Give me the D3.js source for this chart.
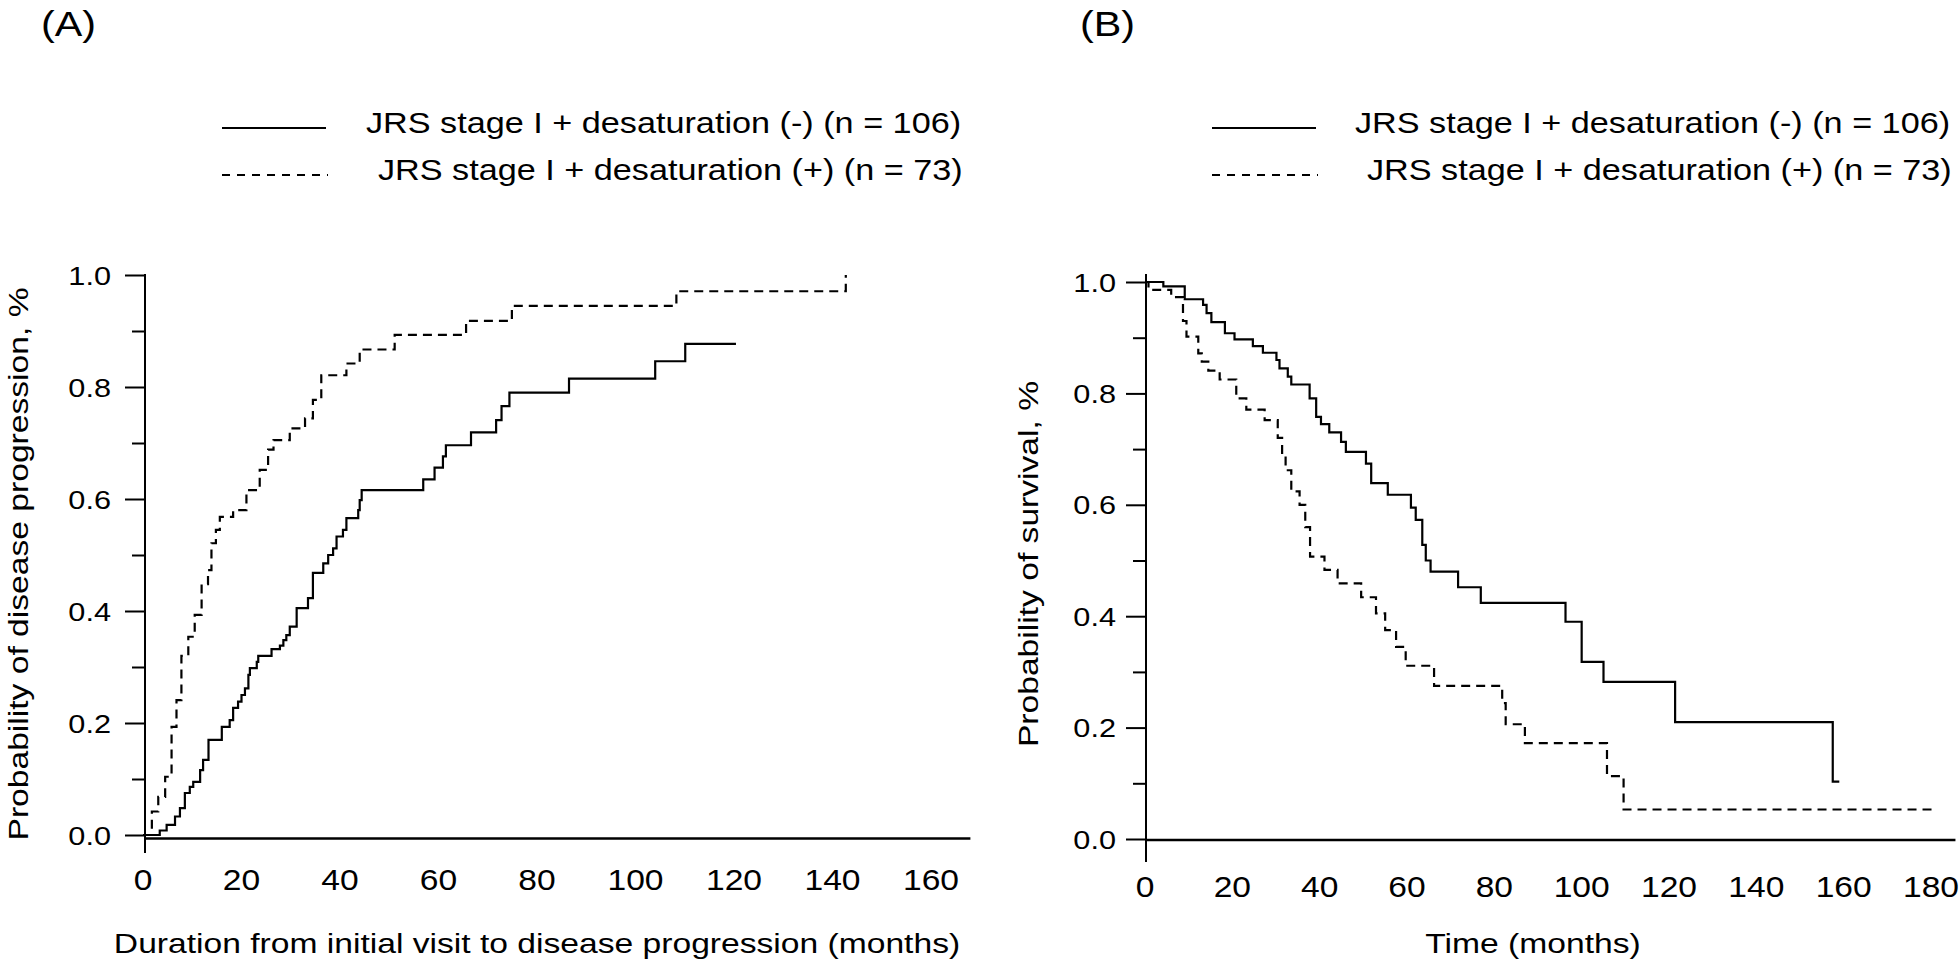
<!DOCTYPE html>
<html>
<head>
<meta charset="utf-8">
<script src="https://cdn.jsdelivr.net/npm/d3@7"></script>
<style>
  html, body { margin: 0; padding: 0; background: #fff; }
  text { font-family: "Liberation Sans", Arial, Helvetica, sans-serif; fill: #000; }
</style>
</head>
<body>
<svg id="chart" width="1960" height="966"></svg>
<script>
// ---------- data ----------
const panelLabels = ["(A)", "(B)"];
const legendLabels = [
  "JRS stage I + desaturation (-) (n = 106)",
  "JRS stage I + desaturation (+) (n = 73)"
];
const xTitleA = "Duration from initial visit to disease progression (months)";
const yTitleA = "Probability of disease progression, %";
const xTitleB = "Time (months)";
const yTitleB = "Probability of survival, %";

const xTicksA = [0, 20, 40, 60, 80, 100, 120, 140, 160];
const xTicksB = [0, 20, 40, 60, 80, 100, 120, 140, 160, 180];
const yMajorTicks = [0, 0.2, 0.4, 0.6, 0.8, 1.0];
const yMinorTicks = [0.1, 0.3, 0.5, 0.7, 0.9];

// Panel A: cumulative probability of progression, desaturation (-)  [month, probability]
const progressionNeg = [
  [0,0],[3.4,0.008],[4.8,0.018],[6.5,0.033],[7.5,0.048],[8.5,0.075],[9.5,0.086],[10.2,0.095],
  [11.6,0.116],[12.2,0.134],[13.3,0.170],[16.0,0.193],[17.6,0.205],[18.3,0.227],[19.3,0.238],
  [20.0,0.25],[20.7,0.262],[21.4,0.286],[21.7,0.298],[23.1,0.309],[23.4,0.32],[26.1,0.332],
  [27.8,0.338],[28.5,0.348],[29.1,0.357],[29.8,0.372],[31.2,0.405],[33.5,0.423],[34.5,0.468],
  [36.6,0.485],[37.6,0.5],[38.6,0.512],[39.3,0.533],[40.6,0.545],[41.3,0.566],[43.7,0.58],
  [44.0,0.598],[44.4,0.616],[56.9,0.635],[59.2,0.656],[60.9,0.676],[61.5,0.696],[66.6,0.719],
  [71.7,0.741],[72.8,0.766],[74.4,0.79],[86.5,0.815],[104.0,0.846],[110.1,0.877],[120.4,0.877]
];
// Panel A: desaturation (+)
const progressionPos = [
  [0,0],[1.8,0.042],[3.1,0.068],[4.5,0.104],[5.8,0.193],[6.8,0.241],[7.8,0.32],[9.2,0.354],
  [10.5,0.393],[11.9,0.448],[13.2,0.473],[13.9,0.521],[14.8,0.545],[15.6,0.568],[18.3,0.58],
  [21.0,0.616],[23.7,0.652],[25.4,0.688],[26.5,0.705],[29.8,0.726],[32.9,0.744],[34.5,0.777],
  [36.2,0.821],[41.3,0.842],[44.0,0.867],[51.1,0.893],[65.6,0.918],[74.9,0.945],[108.3,0.971],
  [142.7,1.0],[142.7,1.0]
];
// Panel B: survival, desaturation (-)
const survivalNeg = [
  [0,1],[4.2,0.992],[9.1,0.969],[13.3,0.959],[14.1,0.944],[15.2,0.928],[18.3,0.908],[20.5,0.897],
  [24.7,0.885],[27.0,0.873],[30.1,0.86],[30.8,0.845],[32.7,0.83],[33.5,0.816],[37.7,0.791],
  [39.2,0.758],[40.3,0.745],[42.2,0.73],[44.9,0.713],[46.0,0.695],[50.6,0.674],[51.8,0.639],
  [55.6,0.618],[60.9,0.595],[62.0,0.573],[63.5,0.528],[64.3,0.5],[65.4,0.48],[71.7,0.452],
  [76.9,0.424],[96.3,0.39],[100.0,0.318],[105.0,0.282],[121.4,0.21],[157.5,0.103],[159.0,0.103]
];
// Panel B: survival, desaturation (+)
const survivalPos = [
  [0,1],[0.8,0.986],[6.0,0.973],[8.7,0.93],[9.5,0.902],[12.2,0.872],[13.0,0.857],[14.5,0.841],
  [17.1,0.825],[20.9,0.791],[23.2,0.771],[27.4,0.752],[30.4,0.72],[31.4,0.69],[32.2,0.662],
  [33.5,0.624],[35.4,0.6],[36.7,0.56],[37.8,0.507],[41.1,0.483],[44.1,0.459],[49.5,0.434],
  [52.9,0.405],[55.0,0.375],[57.5,0.345],[59.7,0.311],[66.2,0.275],[81.8,0.244],[82.6,0.206],
  [87.0,0.172],[105.8,0.113],[109.6,0.053],[180.7,0.053]
];

// ---------- drawing ----------
const SX = 1.18;           // horizontal glyph stretch of the original typeface
const DASH = "9,6";
const svg = d3.select("#chart");
svg.append("rect").attr("width", 1960).attr("height", 966).attr("fill", "#fff");

function txt(g, str, x, y, size, anchor, rotate, sx) {
  return g.append("text")
    .attr("transform", `translate(${x},${y})${rotate ? " rotate(-90)" : ""} scale(${sx || SX},1)`)
    .attr("text-anchor", anchor)
    .style("font-size", size + "px")
    .text(str);
}

function panel(cfg) {
  const g = svg.append("g");
  const x = d3.scaleLinear().domain([0, cfg.xRef]).range([cfg.x0, cfg.xRefPx]);
  const y = d3.scaleLinear().domain([0, 1]).range([cfg.y0, cfg.y1]);

  // y axis with major/minor ticks
  const yAxis = d3.axisLeft(y).tickValues(yMajorTicks).tickSize(20)
    .tickFormat(d3.format(".1f"));
  const ya = g.append("g").attr("transform", `translate(${cfg.yAxisX},0)`).call(yAxis);
  ya.select(".domain").remove();
  ya.selectAll(".tick line").attr("stroke", "#000").attr("stroke-width", 2);
  ya.selectAll(".tick text").remove();
  const ym = d3.axisLeft(y).tickValues(yMinorTicks).tickSize(13).tickFormat("");
  const ymg = g.append("g").attr("transform", `translate(${cfg.yAxisX},0)`).call(ym);
  ymg.select(".domain").remove();
  ymg.selectAll(".tick line").attr("stroke", "#000").attr("stroke-width", 2);
  yMajorTicks.forEach(v => txt(g, d3.format(".1f")(v), cfg.yLabelX, y(v) + 9.5, 26, "end"));

  // y axis line
  g.append("line").attr("x1", cfg.yAxisX).attr("x2", cfg.yAxisX)
    .attr("y1", cfg.yTop).attr("y2", cfg.yBottom)
    .attr("stroke", "#000").attr("stroke-width", 2);
  // x axis line
  g.append("line").attr("x1", cfg.yAxisX).attr("x2", x(cfg.xEnd))
    .attr("y1", cfg.xAxisY).attr("y2", cfg.xAxisY)
    .attr("stroke", "#000").attr("stroke-width", 2.5);
  // x tick labels
  cfg.xTicks.forEach(v => txt(g, String(v), x(v), cfg.xLabelY, 30, "middle", false, 1.12));

  // titles
  txt(g, cfg.xTitle, cfg.xTitleX, 953, 28.5, "middle");
  txt(g, cfg.yTitle, cfg.yTitleX, cfg.yTitleY, 28.5, "middle", true);
  txt(g, cfg.label, cfg.labelX, 36, 35, "start");

  // curves
  const line = d3.line().x(d => x(d[0])).y(d => y(d[1])).curve(d3.curveStepAfter);
  g.append("path").datum(cfg.solid).attr("d", line)
    .attr("fill", "none").attr("stroke", "#000").attr("stroke-width", 2.2);
  g.append("path").datum(cfg.dashed).attr("d", line)
    .attr("fill", "none").attr("stroke", "#000").attr("stroke-width", 2.2)
    .attr("stroke-dasharray", DASH);

  // legend
  g.append("line").attr("x1", cfg.legX).attr("x2", cfg.legX + 104)
    .attr("y1", 128).attr("y2", 128).attr("stroke", "#000").attr("stroke-width", 2.2);
  g.append("line").attr("x1", cfg.legX).attr("x2", cfg.legX + 106)
    .attr("y1", 175).attr("y2", 175).attr("stroke", "#000").attr("stroke-width", 2.2)
    .attr("stroke-dasharray", "8,7");
  txt(g, legendLabels[0], cfg.legTextX[0], 133, 29, "start");
  txt(g, legendLabels[1], cfg.legTextX[1], 180, 29, "start");
}

panel({
  xRef: 160, x0: 143, xRefPx: 931, xEnd: 168,
  y0: 835, y1: 275, yAxisX: 145, yTop: 274, yBottom: 853, xAxisY: 838.5,
  yLabelX: 111, xLabelY: 890, xTicks: xTicksA,
  xTitle: xTitleA, xTitleX: 537, yTitle: yTitleA, yTitleX: 28, yTitleY: 564,
  label: panelLabels[0], labelX: 41,
  solid: progressionNeg, dashed: progressionPos,
  legX: 222, legTextX: [366, 378]
});

panel({
  xRef: 180, x0: 1145, xRefPx: 1931, xEnd: 185.6,
  y0: 839, y1: 282, yAxisX: 1146, yTop: 274, yBottom: 862, xAxisY: 840,
  yLabelX: 1116, xLabelY: 897, xTicks: xTicksB,
  xTitle: xTitleB, xTitleX: 1533, yTitle: yTitleB, yTitleX: 1038, yTitleY: 564,
  label: panelLabels[1], labelX: 1080,
  solid: survivalNeg, dashed: survivalPos,
  legX: 1212, legTextX: [1355, 1367]
});
</script>
</body>
</html>
